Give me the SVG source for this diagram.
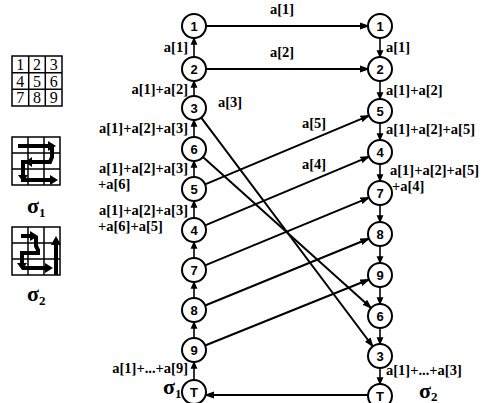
<svg xmlns="http://www.w3.org/2000/svg" width="484" height="403" viewBox="0 0 484 403">
<style>
.bg{fill:#fff}
.nd circle{fill:#fff;stroke:#000;stroke-width:2}
.nd text{font-family:"Liberation Sans",Arial,sans-serif;font-weight:bold;font-size:13px;text-anchor:middle;dominant-baseline:central}
.lb{font-family:"Liberation Serif","Times New Roman",serif;font-weight:bold;font-size:14.5px;fill:#000}
.end{text-anchor:end}
.sg{font-family:"Liberation Serif","Times New Roman",serif;font-weight:bold;font-size:22px}
.sub{font-size:13px}
.col{stroke:#000;stroke-width:1.6;fill:none;marker-end:url(#ah)}
.cr{stroke:#000;stroke-width:2;fill:none;marker-end:url(#ah2)}
.grid{fill:none;stroke:#000;stroke-width:1.5}
.gn{font-family:"Liberation Serif","Times New Roman",serif;font-size:16px;text-anchor:middle}
.snake{fill:none;stroke:#000;stroke-width:4;stroke-linejoin:miter}
</style>
<defs>
<marker id="ah" markerWidth="8" markerHeight="8" refX="6" refY="3" orient="auto" markerUnits="userSpaceOnUse" viewBox="0 0 7 6">
<path d="M0,0 L7,3 L0,6 Z" fill="#000"/>
</marker>
<marker id="ah2" markerWidth="10" markerHeight="8" refX="8" refY="3.5" orient="auto" markerUnits="userSpaceOnUse" viewBox="0 0 10 7">
<path d="M0,0 L10,3.5 L0,7 Z" fill="#000"/>
</marker>
</defs>
<rect class="bg" width="484" height="403"/>

<g id="grid-legend">
<rect class="grid" x="12" y="56" width="50" height="50"/>
<path class="grid" d="M28.7,56V106M45.3,56V106M12,72.7H62M12,89.3H62"/>
<text class="gn" x="20.3" y="70">1</text><text class="gn" x="37" y="70">2</text><text class="gn" x="53.7" y="70">3</text>
<text class="gn" x="20.3" y="86.5">4</text><text class="gn" x="37" y="86.5">5</text><text class="gn" x="53.7" y="86.5">6</text>
<text class="gn" x="20.3" y="103">7</text><text class="gn" x="37" y="103">8</text><text class="gn" x="53.7" y="103">9</text>
</g>

<g id="sigma1-icon">
<rect class="grid" x="12" y="137" width="48" height="48"/>
<path class="grid" d="M28,137V185M44,137V185M12,153H60M12,169H60"/>
<path class="snake" d="M18,146H50"/>
<polygon points="48,141 56,146 48,151"/>
<path class="snake" d="M52,146V157L50,162H30"/>
<polygon points="32,157 25,162 32,167"/>
<path class="snake" d="M30,162H23V176"/>
<polygon points="18,175 23,182 28,175"/>
<path class="snake" d="M21,180H52"/>
<polygon points="50,175 58,180 50,185"/>
<text class="sg" x="27" y="213">σ<tspan class="sub" dy="4">1</tspan></text>
</g>

<g id="sigma2-icon">
<rect class="grid" x="12" y="227" width="48" height="48"/>
<path class="grid" d="M28,227V275M44,227V275M12,243H60M12,259H60"/>
<path class="snake" d="M21,236H32"/>
<polygon points="30,231 38,236 30,241"/>
<path class="snake" d="M36,236V246L38,250V253H24"/>
<path class="snake" d="M24,253H22V264"/>
<polygon points="17,263 22,270 27,263"/>
<path class="snake" d="M22,268H47"/>
<polygon points="45,263 53,268 45,273"/>
<path class="snake" d="M56,275V243"/>
<polygon points="51,245 56,236 61,245"/>
<text class="sg" x="27" y="301">σ<tspan class="sub" dy="4">2</tspan></text>
</g>

<g id="connectors">
<!-- left column: upward -->
<line class="col" x1="194" y1="57" x2="194" y2="38"/>
<line class="col" x1="194" y1="96" x2="194" y2="81"/>
<line class="col" x1="194" y1="137" x2="194" y2="120"/>
<line class="col" x1="194" y1="177" x2="194" y2="161"/>
<line class="col" x1="194" y1="218" x2="194" y2="201"/>
<line class="col" x1="194" y1="258" x2="194" y2="242"/>
<line class="col" x1="194" y1="298" x2="194" y2="282"/>
<line class="col" x1="194" y1="338" x2="194" y2="322"/>
<line class="col" x1="194" y1="380" x2="194" y2="362"/>
<!-- right column: downward -->
<line class="col" x1="380" y1="38" x2="380" y2="57"/>
<line class="col" x1="380" y1="81" x2="380" y2="99"/>
<line class="col" x1="380" y1="123" x2="380" y2="140"/>
<line class="col" x1="380" y1="164" x2="380" y2="181"/>
<line class="col" x1="380" y1="205" x2="380" y2="222"/>
<line class="col" x1="380" y1="246" x2="380" y2="263"/>
<line class="col" x1="380" y1="287" x2="380" y2="304"/>
<line class="col" x1="380" y1="328" x2="380" y2="344"/>
<line class="col" x1="380" y1="368" x2="380" y2="384"/>
<!-- cross -->
<line class="cr" x1="206" y1="26" x2="368" y2="26"/>
<line class="cr" x1="206" y1="69" x2="368" y2="69"/>
<line class="cr" x1="201.2" y1="117.6" x2="372.5" y2="346"/>
<line class="cr" x1="202.9" y1="157" x2="370.7" y2="307.6"/>
<line class="cr" x1="205.1" y1="184.4" x2="368.5" y2="115.8"/>
<line class="cr" x1="205.1" y1="225.4" x2="368.5" y2="156.8"/>
<line class="cr" x1="205.1" y1="265.4" x2="368.5" y2="197.8"/>
<line class="cr" x1="205.1" y1="305.5" x2="368.4" y2="238.7"/>
<line class="cr" x1="205.1" y1="345.5" x2="368.4" y2="279.7"/>
<line class="cr" x1="368" y1="395" x2="206" y2="395"/>
</g>

<g id="labels">
<text class="lb" x="270" y="14">a[1]</text>
<text class="lb" x="270" y="57">a[2]</text>
<text class="lb" x="218" y="107">a[3]</text>
<text class="lb" x="302" y="128">a[5]</text>
<text class="lb" x="302" y="169">a[4]</text>
<text class="lb end" x="188" y="52">a[1]</text>
<text class="lb end" x="188" y="94">a[1]+a[2]</text>
<text class="lb end" x="188" y="133">a[1]+a[2]+a[3]</text>
<text class="lb end" x="188" y="173">a[1]+a[2]+a[3]</text>
<text class="lb" x="98" y="189">+a[6]</text>
<text class="lb end" x="188" y="215">a[1]+a[2]+a[3]</text>
<text class="lb" x="98" y="231">+a[6]+a[5]</text>
<text class="lb end" x="188" y="373">a[1]+...+a[9]</text>
<text class="sg" x="163" y="394">σ<tspan class="sub" dy="4">1</tspan></text>
<text class="lb" x="386" y="375">a[1]+...+a[3]</text>
<text class="sg" x="419" y="398">σ<tspan class="sub" dy="3">2</tspan></text>
<text class="lb" x="386" y="52">a[1]</text>
<text class="lb" x="386" y="95">a[1]+a[2]</text>
<text class="lb" x="386" y="134">a[1]+a[2]+a[5]</text>
<text class="lb" x="390" y="175">a[1]+a[2]+a[5]</text>
<text class="lb" x="392" y="191">+a[4]</text>
</g>

<g id="L1" class="nd"><circle cx="194" cy="26" r="12"/><text x="194" y="26">1</text></g>
<g id="L2" class="nd"><circle cx="194" cy="69" r="12"/><text x="194" y="69">2</text></g>
<g id="L3" class="nd"><circle cx="194" cy="108" r="12"/><text x="194" y="108">3</text></g>
<g id="L6" class="nd"><circle cx="194" cy="149" r="12"/><text x="194" y="149">6</text></g>
<g id="L5" class="nd"><circle cx="194" cy="189" r="12"/><text x="194" y="189">5</text></g>
<g id="L4" class="nd"><circle cx="194" cy="230" r="12"/><text x="194" y="230">4</text></g>
<g id="L7" class="nd"><circle cx="194" cy="270" r="12"/><text x="194" y="270">7</text></g>
<g id="L8" class="nd"><circle cx="194" cy="310" r="12"/><text x="194" y="310">8</text></g>
<g id="L9" class="nd"><circle cx="194" cy="350" r="12"/><text x="194" y="350">9</text></g>
<g id="LT" class="nd"><circle cx="194" cy="392" r="12"/><text x="194" y="392">T</text></g>
<g id="R1" class="nd"><circle cx="380" cy="26" r="12"/><text x="380" y="26">1</text></g>
<g id="R2" class="nd"><circle cx="380" cy="69" r="12"/><text x="380" y="69">2</text></g>
<g id="R5" class="nd"><circle cx="380" cy="111" r="12"/><text x="380" y="111">5</text></g>
<g id="R4" class="nd"><circle cx="380" cy="152" r="12"/><text x="380" y="152">4</text></g>
<g id="R7" class="nd"><circle cx="380" cy="193" r="12"/><text x="380" y="193">7</text></g>
<g id="R8" class="nd"><circle cx="380" cy="234" r="12"/><text x="380" y="234">8</text></g>
<g id="R9" class="nd"><circle cx="380" cy="275" r="12"/><text x="380" y="275">9</text></g>
<g id="R6" class="nd"><circle cx="380" cy="316" r="12"/><text x="380" y="316">6</text></g>
<g id="R3" class="nd"><circle cx="380" cy="356" r="12"/><text x="380" y="356">3</text></g>
<g id="RT" class="nd"><circle cx="380" cy="396" r="12"/><text x="380" y="396">T</text></g>
</svg>
